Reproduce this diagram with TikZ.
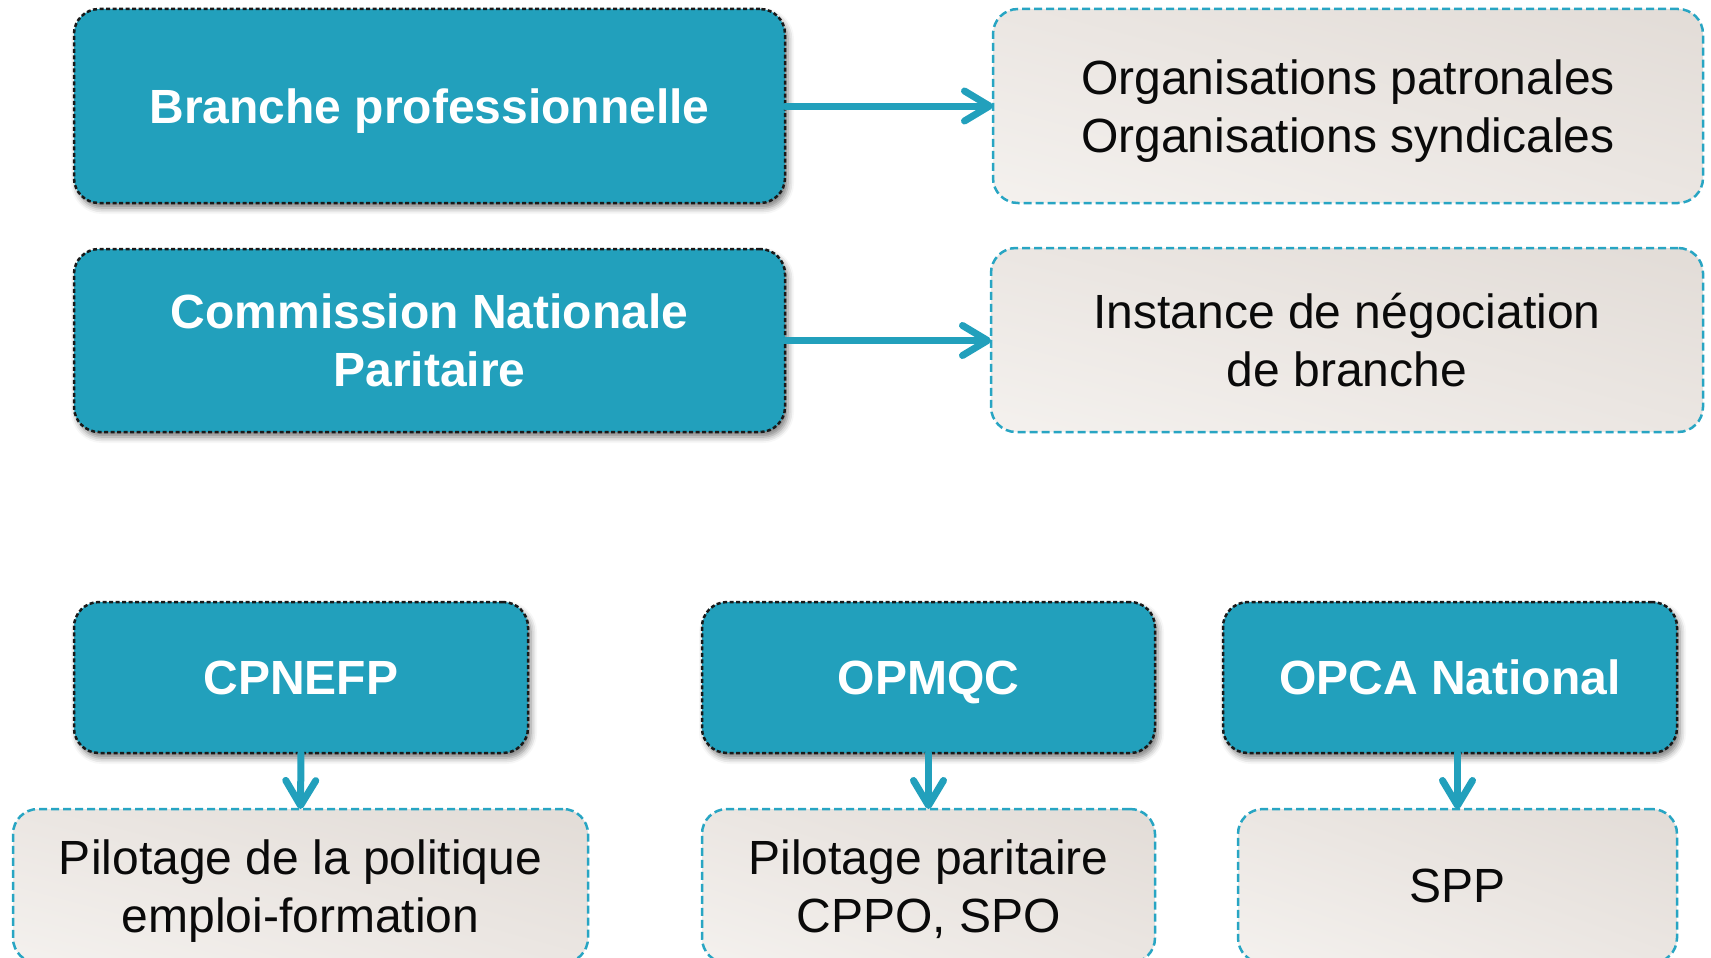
\documentclass[tikz,border=0pt]{standalone}
\usepackage{fontspec}
\setmainfont{Liberation Sans}
\usetikzlibrary{arrows.meta,shadows.blur,shadings}
\definecolor{teal1}{RGB}{34,160,188}
\definecolor{tealb}{RGB}{40,165,195}
\definecolor{lightA}{RGB}{244,241,238}
\definecolor{lightB}{RGB}{226,220,215}
\definecolor{lightM}{RGB}{235,230,226}
\definecolor{txt}{RGB}{10,10,10}
\tikzset{
  darkbox/.style={rectangle, rounded corners=25pt, fill=teal1, draw=black!90,
    dash pattern=on 4pt off 2.5pt, line width=2.5pt, text=white, text depth=0pt,
    font=\fontsize{48}{58}\selectfont\bfseries, align=center, inner sep=0pt, outer sep=0pt,
    blur shadow={shadow xshift=3pt, shadow yshift=-5pt, shadow blur radius=6pt, shadow opacity=50}},
  lightbox/.style={rectangle, rounded corners=25pt, draw=tealb,
    dash pattern=on 8pt off 4pt, line width=2.5pt, text=txt, text depth=0pt,
    lower left=lightA, upper right=lightB, upper left=lightM, lower right=lightM,
    font=\fontsize{48}{58}\selectfont, align=center, inner sep=0pt, outer sep=0pt},
  arr/.style={draw=teal1, line width=7pt, line cap=round,
    -{Straight Barb[length=25pt,width=30pt,round]}}
}
\begin{document}
\begin{tikzpicture}[x=1pt,y=-1pt]
\useasboundingbox (0,0) rectangle (1711,958);
\clip (0,0) rectangle (1711,958);
\node[darkbox, minimum width=711pt, minimum height=194pt] (b1) at (429.5,106) {Branche professionnelle};
\node[lightbox, minimum width=710pt, minimum height=194pt] (r1) at (1348,106) {Organisations patronales\\Organisations syndicales};
\node[darkbox, minimum width=711pt, minimum height=183pt] (b2) at (429.5,340.5) {Commission Nationale\\Paritaire};
\node[lightbox, minimum width=712pt, minimum height=184pt] (r2) at (1347,340) {Instance de négociation\\de branche};
\node[darkbox, minimum width=454pt, minimum height=151pt] (c1) at (301,677.5) {CPNEFP};
\node[lightbox, minimum width=575pt, minimum height=154pt] (l1) at (300.5,886) {Pilotage de la politique\\emploi-formation};
\node[darkbox, minimum width=453pt, minimum height=151pt] (c2) at (928.5,677.5) {OPMQC};
\node[lightbox, minimum width=453pt, minimum height=154pt] (l2) at (928.5,886) {Pilotage paritaire\\CPPO, SPO};
\node[darkbox, minimum width=454pt, minimum height=151pt] (c3) at (1450,677.5) {OPCA National};
\node[lightbox, minimum width=439pt, minimum height=154pt] (l3) at (1457.5,886) {SPP};
\draw[arr] (b1.east) -- (r1.west);
\draw[arr] (b2.east) -- (b2.east -| r2.west);
\draw[arr] (c1.south) -- (l1.north);
\draw[arr] (c2.south) -- (l2.north);
\draw[arr] (l3.north |- c3.south) -- (l3.north);
\end{tikzpicture}
\end{document}
